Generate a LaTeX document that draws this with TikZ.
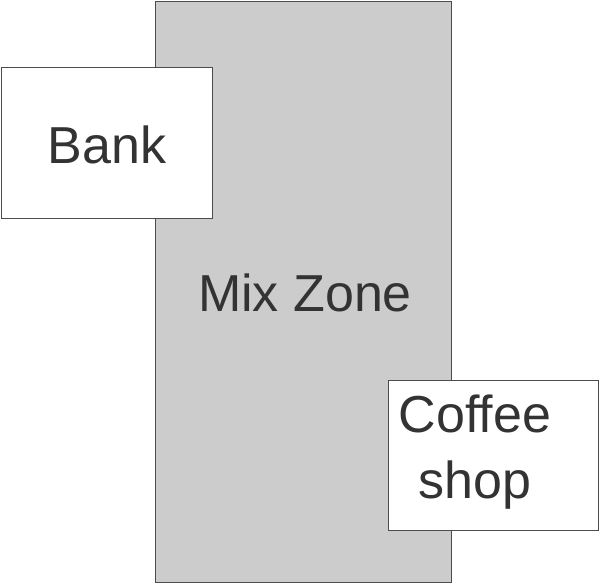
\documentclass[tikz,border=0pt]{standalone}
\usepackage{fontspec}
\setmainfont{Liberation Sans}
\begin{document}
\begin{tikzpicture}[x=1pt,y=-1pt,
  box/.style={draw=black!70,line width=1pt},
  lbl/.style={text=black!80,font=\fontsize{52}{66}\selectfont,align=center}]
\useasboundingbox (0,0) rectangle (600,584);
\fill[white] (0,0) rectangle (600,584);
\draw[box,fill=black!20] (155,1) rectangle (451,582);
\draw[box,fill=white] (1,67) rectangle (212,218);
\draw[box,fill=white] (388,380) rectangle (598,530);
\node[lbl] (mix) at (305,293) {Mix Zone};
\node[lbl] (bank) at (107,145) {Bank};
\node[lbl] (cof) at (475,452) {Coffee\\shop};
\end{tikzpicture}
\end{document}
